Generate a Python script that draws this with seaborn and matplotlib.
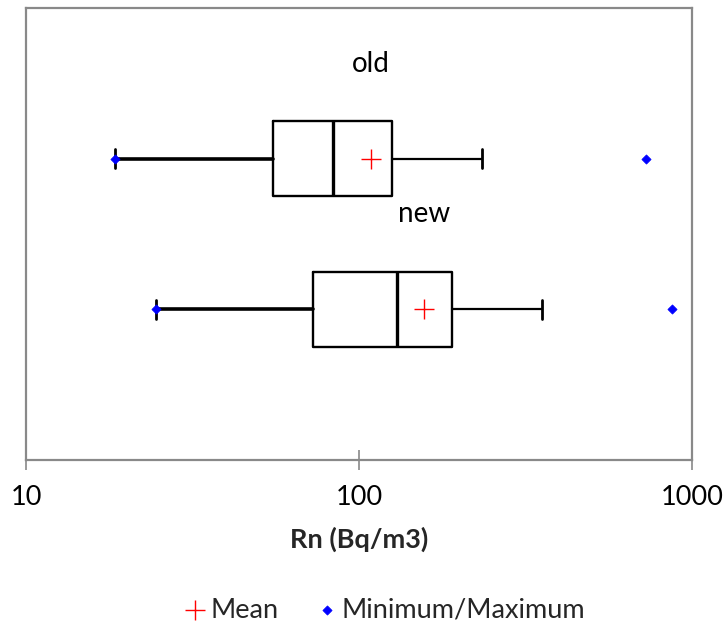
import matplotlib
matplotlib.use("Agg")
import matplotlib.pyplot as plt
import seaborn as sns
import pandas as pd

# Radon concentration summary per building group (Bq/m3)
groups = ["old", "new"]
minimum = [18.5, 24.6]
q1 = [55.3, 73.0]
median = [83.8, 129.7]
mean = [108.3, 156.3]
q3 = [125.3, 189.7]
whisker_high = [233.6, 354.0]
maximum = [727.0, 871.0]

tick_values = [10, 100, 1000]
tick_labels = ["10", "100", "1000"]

sns.set_theme(style="white")
plt.rcParams["font.family"] = ["Lato", "DejaVu Sans"]

positions = list(range(1, len(groups) + 1))
summary = pd.DataFrame({"group": groups, "pos": positions, "mean": mean})
extremes = pd.DataFrame({
    "value": minimum + maximum,
    "pos": positions + positions,
})

fig = plt.figure(figsize=(7.24, 6.24), dpi=100)
ax = fig.add_axes([26 / 724, 1 - 460 / 624, (692 - 26) / 724, (460 - 8) / 624])

stats = [
    {"label": g, "whislo": lo, "q1": a, "med": m, "q3": b, "whishi": hi, "fliers": []}
    for g, lo, a, m, b, hi in zip(groups, minimum, q1, median, q3, whisker_high)
]
art = ax.bxp(
    stats,
    positions=positions,
    widths=0.5,
    capwidths=0.13,
    orientation="horizontal",
    manage_ticks=False,
    boxprops=dict(color="black", linewidth=1.7),
    medianprops=dict(color="black", linewidth=2.4),
    whiskerprops=dict(color="black", linewidth=1.6),
    capprops=dict(color="black", linewidth=2.0),
)
# lower whiskers are drawn heavier than the upper ones
for i, w in enumerate(art["whiskers"]):
    if i % 2 == 0:
        w.set_linewidth(2.6)

sns.scatterplot(data=extremes, x="value", y="pos", marker="D", color="#0000ff",
                s=22, edgecolor="#0000ff", linewidth=0.5, ax=ax,
                label="Minimum/Maximum", zorder=5)
sns.scatterplot(data=summary, x="mean", y="pos", marker="+", color="#ff0000",
                s=200, linewidth=1.0, ax=ax, label="Mean", zorder=6)

for _, row in summary.iterrows():
    ax.text(row["mean"], row["pos"] - 0.63, row["group"], ha="center", va="center",
            fontsize=20, color="black")

ax.set_xscale("log")
ax.set_xlim(10, 1000)
ax.set_ylim(3, 0)
ax.set_xticks(tick_values)
ax.set_xticklabels(tick_labels, fontsize=19.5)
ax.xaxis.set_minor_locator(matplotlib.ticker.NullLocator())
ax.set_yticks([])
ax.tick_params(axis="x", direction="inout", length=14, width=1.2, color="#898989",
               pad=11, labelcolor="black", bottom=True)
for side in ["left", "right", "top", "bottom"]:
    ax.spines[side].set_color("#898989")
    ax.spines[side].set_linewidth(1.6)
ax.set_ylabel("")
ax.set_xlabel("Rn (Bq/m3)", fontsize=19.5, fontweight="bold", labelpad=12)

handles, labels = ax.get_legend_handles_labels()
order = [labels.index("Mean"), labels.index("Minimum/Maximum")]
ax.legend([handles[i] for i in order], [labels[i] for i in order],
          loc="center", bbox_to_anchor=(385 / 724, 1 - 610 / 624), bbox_transform=fig.transFigure,
          ncol=2, frameon=False, fontsize=19.5, handletextpad=0.15, columnspacing=1.4,
          handlelength=0.8, borderpad=0)

fig.savefig("out.png", dpi=100)
